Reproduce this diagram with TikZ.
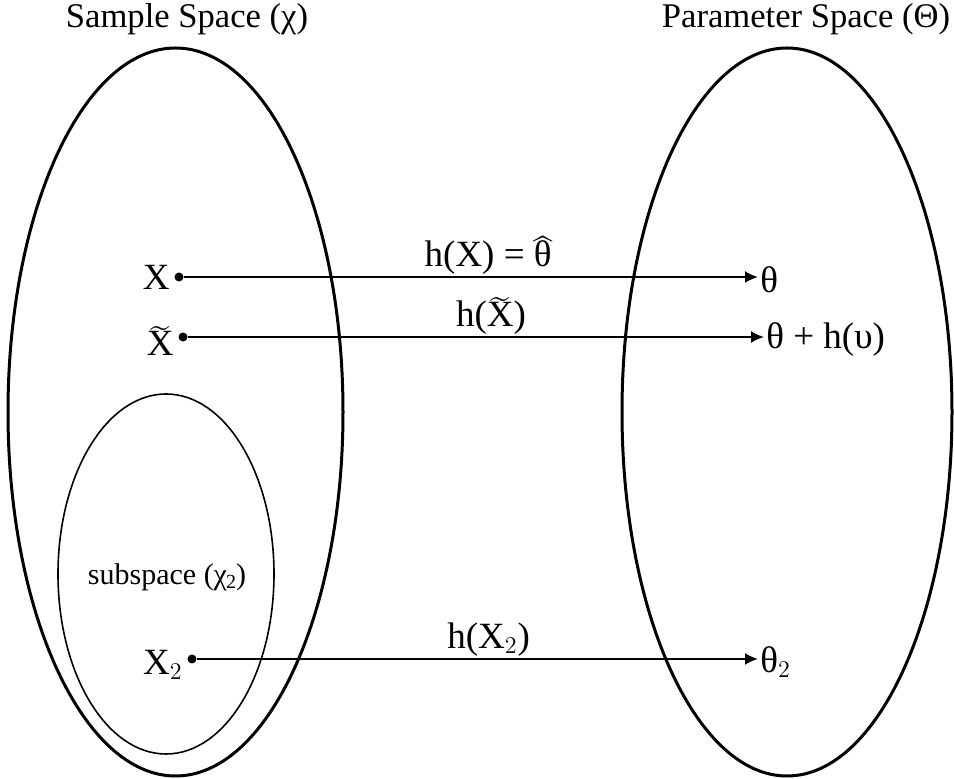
\documentclass[tikz,border=0pt]{standalone}
\usepackage{amsmath}
\usepackage{fontspec}
\setmainfont{Liberation Serif}
\usepackage{tikz}
\usetikzlibrary{shapes.geometric,arrows.meta,positioning}
\newcommand{\hatth}{$\widehat{\text{\raisebox{0pt}[0.52em]{θ}}}$}
\newcommand{\tildex}{$\widetilde{\text{\raisebox{0pt}[0.5em]{X}}}$}

\begin{document}
\begin{tikzpicture}[
  x=0.5pt,y=-0.5pt,
  space/.style={ellipse,draw,line width=1.5pt,inner sep=0pt},
  subspace/.style={ellipse,draw,line width=0.8pt,inner sep=0pt},
  pt/.style={circle,fill,inner sep=0pt,minimum size=4.5pt},
  lbl/.style={font=\fontsize{18.5}{21}\selectfont,inner sep=1pt},
  map/.style={-{Latex[length=6.5pt,width=6pt]},line width=1pt},
  title/.style={font=\fontsize{17.3}{20}\selectfont},
]
\useasboundingbox (0,0) rectangle (954,779);
% the two spaces
\node[space,minimum width=167.5pt,minimum height=364pt] (sample) at (175.5,412) {};
\node[space,minimum width=165pt,minimum height=364pt] (param) at (787,412) {};
\node[subspace,minimum width=108pt,minimum height=180pt] (sub) at (166,574) {};
\node[title] (sampletitle) at (187,19) {Sample Space (χ)};
\node[title] (paramtitle) at (806,19) {Parameter Space (Θ)};
\node[font=\fontsize{15}{17}\selectfont] (subtitle) at (167,577) {subspace (χ\kern-0.5pt\raisebox{-0.3ex}{\fontsize{10}{11}\selectfont 2})};
% sample points
\node[pt] (x) at (179,277) {};
\node[pt] (xt) at (183,337) {};
\node[pt] (x2) at (192,659) {};
\node[lbl,left=1pt of x] (xl) {X};
\node[lbl,anchor=east] (xtl) at ([xshift=-1pt,yshift=-2pt]xt.west) {\tildex};
\node[lbl,anchor=east] (x2l) at ([xshift=-1pt,yshift=-3pt]x2.west) {X$_2$};
% parameter values
\node[lbl,anchor=west] (theta) at (758,280) {θ};
\node[lbl,anchor=west] (thetah) at (764,340) {θ + h(υ)};
\node[lbl,anchor=west] (theta2) at (758,662) {θ$_2$};
% estimators
\draw[map] (x) -- node[lbl,above,pos=0.53] {h(X) = \hatth} (x -| theta.west);
\draw[map] (xt) -- node[lbl,above,pos=0.526] {h(\tildex)} (xt -| thetah.west);
\draw[map] (x2) -- node[lbl,above,pos=0.52] {h(X$_2$)} (x2 -| theta2.west);
\end{tikzpicture}
\end{document}
